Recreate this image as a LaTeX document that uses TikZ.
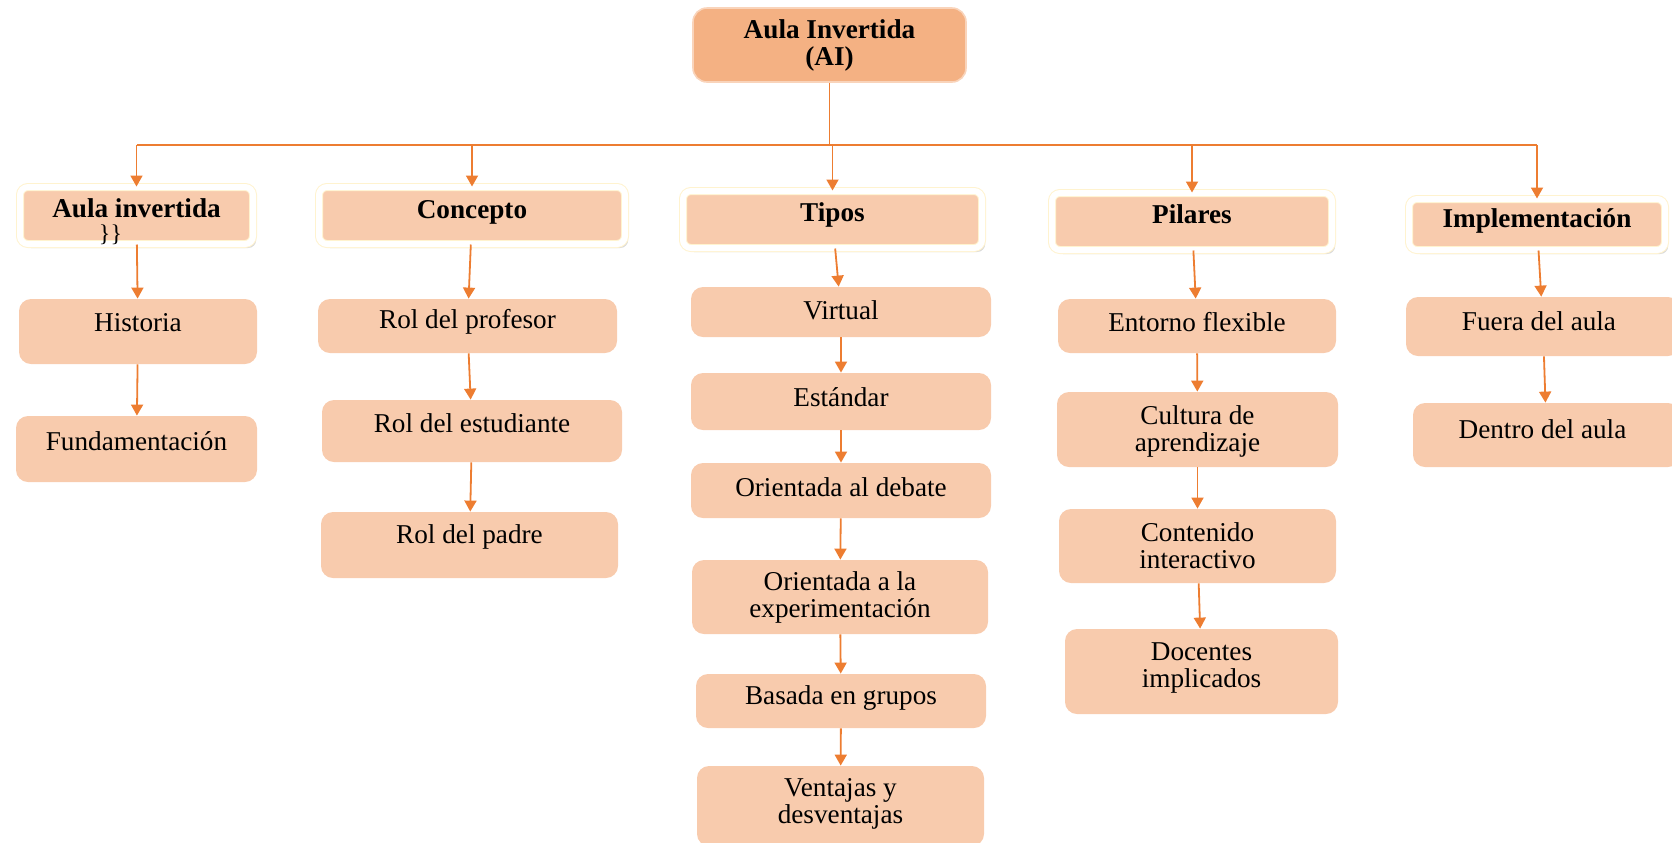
\documentclass[tikz,border=0pt]{standalone}
\usepackage{fontspec}
\setmainfont{Liberation Serif}
\usetikzlibrary{arrows.meta,shadows,fit}

\definecolor{aiorange}{HTML}{ED7D31}
\definecolor{aipeach}{HTML}{F8CBAD}
\definecolor{aitop}{HTML}{F4B183}
\definecolor{aiframe}{HTML}{FFF3CF}

\newcommand\aisize{\fontsize{13.6}{13.5}\selectfont}

\tikzset{
    box/.style={fill=aipeach, rounded corners=6pt, inner sep=0pt},
    head/.style={box, draw=aiframe, double=white, double distance=3pt, line width=.5pt,
        rounded corners=4pt, drop shadow={shadow xshift=1.6pt, shadow yshift=-2pt, opacity=.3}},
    topbox/.style={fill=aitop, draw=aitop!55!white, line width=.8pt, rounded corners=7pt, inner sep=0pt},
    arr/.style={draw=aiorange, line width=.9pt, -{Triangle[width=6pt,length=5.5pt]}},
    link/.style={draw=aiorange, line width=.6pt},
}

\begin{document}
\begin{tikzpicture}[x=.5pt, y=-.5pt, font=\aisize]
    \useasboundingbox (0,0) rectangle (1672,842);

    % root
    \node[topbox, fit={(693,8) (966,82)},
        label={[align=center, font=\aisize\bfseries]center:{Aula Invertida\\(AI)}}] (ai) {};
    \coordinate (bus) at (0,145);

    % first level
    \node[head, fit={(20,187) (253,244)},
        label={[align=center, font=\aisize\bfseries, yshift=-3.3pt]center:{Aula invertida\\[-1.5pt]{\mdseries\fontsize{12}{12}\selectfont\makebox[0pt]{\hspace*{-26pt}\}\}}}}}] (hA) {};
    \node[head, fit={(319,187) (625,244)},
        label={[font=\aisize\bfseries, yshift=1.8pt]center:Concepto}] (hB) {};
    \node[head, fit={(683,191) (982,248)},
        label={[font=\aisize\bfseries, yshift=2.2pt]center:Tipos}] (hC) {};
    \node[head, fit={(1052,193) (1332,250)},
        label={[font=\aisize\bfseries, yshift=3.5pt]center:Pilares}] (hD) {};
    \node[head, fit={(1409,199) (1665,250)},
        label={[font=\aisize\bfseries, yshift=2pt]center:Implementación}] (hE) {};

    \draw[link] (ai.south) -- (ai.south |- bus);
    \draw[link] (hA.north |- bus) -- (hE.north |- bus);
    \foreach \h in {hA,hB,hC,hD,hE}
        \draw[arr] (\h.north |- bus) -- (\h.north);

    % Aula invertida
    \node[box, fit={(19,299) (257,364)}, label={[yshift=4.2pt]center:Historia}] (his) {};
    \node[box, fit={(16,416) (257,482)}, label={[yshift=4pt]center:Fundamentación}] (fun) {};

    % Concepto
    \node[box, fit={(318,299) (617,353)}, label={[yshift=2pt]center:Rol del profesor}] (rpr) {};
    \node[box, fit={(322,400) (622,462)}, label={[yshift=4pt]center:Rol del estudiante}] (res) {};
    \node[box, fit={(321,512) (618,578)}, label={[yshift=4pt]center:Rol del padre}] (rpa) {};

    % Tipos
    \node[box, fit={(691,287) (991,337)}, label={[yshift=1pt]center:Virtual}] (vir) {};
    \node[box, fit={(691,373) (991,430)}, label={[yshift=2.2pt]center:Estándar}] (est) {};
    \node[box, fit={(691,463) (991,518)}, label={[yshift=1.8pt]center:Orientada al debate}] (deb) {};
    \node[box, fit={(692,560) (988,634)},
        label={[align=center]center:{Orientada a la\\experimentación}}] (exp) {};
    \node[box, fit={(696,674) (986,728)}, label={[yshift=1.5pt]center:Basada en grupos}] (gru) {};
    \node[box, fit={(697,766) (984,846)},
        label={[align=center, yshift=1pt]center:{Ventajas y\\desventajas}}] (ven) {};

    % Pilares
    \node[box, fit={(1058,299) (1336,353)}, label={[yshift=2pt]center:Entorno flexible}] (ent) {};
    \node[box, fit={(1057,392) (1338,467)},
        label={[align=center, yshift=-1.2pt]center:{Cultura de\\aprendizaje}}] (cul) {};
    \node[box, fit={(1059,509) (1336,583)},
        label={[align=center]center:{Contenido\\interactivo}}] (con) {};
    \node[box, fit={(1065,629) (1338,714)},
        label={[align=center, yshift=1.8pt]center:{Docentes\\implicados}}] (doc) {};

    % Implementacion
    \node[box, fit={(1406,297) (1680,356)}, label={[yshift=2.7pt, xshift=-2pt]center:Fuera del aula}] (fue) {};
    \node[box, fit={(1413,403) (1680,467)}, label={[yshift=3pt, xshift=-2pt]center:Dentro del aula}] (den) {};

    \draw[arr] (hA) -- (his);
    \draw[arr] (his) -- (fun);
    \draw[arr] (hB) -- (rpr);
    \draw[arr] (rpr) -- (res);
    \draw[arr] (res) -- (rpa);
    \draw[arr] (hC) -- (vir);
    \draw[arr] (vir) -- (est);
    \draw[arr] (est) -- (deb);
    \draw[arr] (deb) -- (exp);
    \draw[arr] (exp) -- (gru);
    \draw[arr] (gru) -- (ven);
    \draw[arr] (hD) -- (ent);
    \draw[arr] (ent) -- (cul);
    \draw[arr] (cul) -- (con);
    \draw[arr] (con) -- (doc);
    \draw[arr] (hE) -- (fue);
    \draw[arr] (fue) -- (den);
\end{tikzpicture}
\end{document}
